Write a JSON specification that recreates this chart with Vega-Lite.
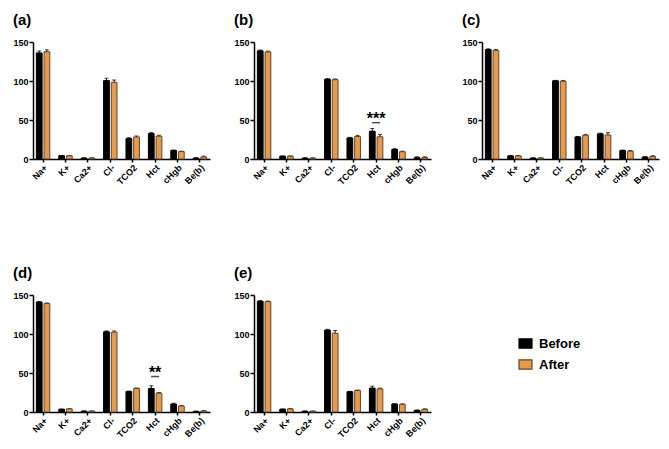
{
  "$schema": "https://vega.github.io/schema/vega-lite/v6.json",
  "padding": {"left": 12, "top": 13, "right": 5, "bottom": 5},
  "autosize": {"type": "pad"},
  "background": "white",
  "datasets": {
    "rows": [
      {"panel": "a", "analyte": "Na+", "group": "Before", "value": 136, "err": 2.5},
      {"panel": "a", "analyte": "Na+", "group": "After", "value": 137.5, "err": 2.5},
      {"panel": "a", "analyte": "K+", "group": "Before", "value": 4.2, "err": 0.3},
      {"panel": "a", "analyte": "K+", "group": "After", "value": 4.1, "err": 0.3},
      {"panel": "a", "analyte": "Ca2+", "group": "Before", "value": 1.2, "err": 0.1},
      {"panel": "a", "analyte": "Ca2+", "group": "After", "value": 1.2, "err": 0.1},
      {"panel": "a", "analyte": "Cl-", "group": "Before", "value": 100.5, "err": 3},
      {"panel": "a", "analyte": "Cl-", "group": "After", "value": 98.3, "err": 3},
      {"panel": "a", "analyte": "TCO2", "group": "Before", "value": 26.3, "err": 1},
      {"panel": "a", "analyte": "TCO2", "group": "After", "value": 28.3, "err": 1.2},
      {"panel": "a", "analyte": "Hct", "group": "Before", "value": 32.6, "err": 1.5},
      {"panel": "a", "analyte": "Hct", "group": "After", "value": 29.3, "err": 1.2},
      {"panel": "a", "analyte": "cHgb", "group": "Before", "value": 11, "err": 0.5},
      {"panel": "a", "analyte": "cHgb", "group": "After", "value": 9.5, "err": 0.6},
      {"panel": "a", "analyte": "Be(b)", "group": "Before", "value": 1.2, "err": 0.5},
      {"panel": "a", "analyte": "Be(b)", "group": "After", "value": 2.7, "err": 1},

      {"panel": "b", "analyte": "Na+", "group": "Before", "value": 138.7, "err": 1},
      {"panel": "b", "analyte": "Na+", "group": "After", "value": 137.3, "err": 1},
      {"panel": "b", "analyte": "K+", "group": "Before", "value": 3.6, "err": 0.3},
      {"panel": "b", "analyte": "K+", "group": "After", "value": 3.6, "err": 0.3},
      {"panel": "b", "analyte": "Ca2+", "group": "Before", "value": 1.2, "err": 0.1},
      {"panel": "b", "analyte": "Ca2+", "group": "After", "value": 1.2, "err": 0.1},
      {"panel": "b", "analyte": "Cl-", "group": "Before", "value": 102.3, "err": 0.8},
      {"panel": "b", "analyte": "Cl-", "group": "After", "value": 101.7, "err": 1},
      {"panel": "b", "analyte": "TCO2", "group": "Before", "value": 27, "err": 0.8},
      {"panel": "b", "analyte": "TCO2", "group": "After", "value": 28.8, "err": 1.5},
      {"panel": "b", "analyte": "Hct", "group": "Before", "value": 35.6, "err": 3.5},
      {"panel": "b", "analyte": "Hct", "group": "After", "value": 28.5, "err": 3},
      {"panel": "b", "analyte": "cHgb", "group": "Before", "value": 12.3, "err": 1},
      {"panel": "b", "analyte": "cHgb", "group": "After", "value": 9.3, "err": 0.8},
      {"panel": "b", "analyte": "Be(b)", "group": "Before", "value": 1.7, "err": 1.2},
      {"panel": "b", "analyte": "Be(b)", "group": "After", "value": 2, "err": 0.8},

      {"panel": "c", "analyte": "Na+", "group": "Before", "value": 140.3, "err": 1},
      {"panel": "c", "analyte": "Na+", "group": "After", "value": 139.3, "err": 1},
      {"panel": "c", "analyte": "K+", "group": "Before", "value": 4, "err": 0.3},
      {"panel": "c", "analyte": "K+", "group": "After", "value": 4, "err": 0.3},
      {"panel": "c", "analyte": "Ca2+", "group": "Before", "value": 1.2, "err": 0.1},
      {"panel": "c", "analyte": "Ca2+", "group": "After", "value": 1.2, "err": 0.1},
      {"panel": "c", "analyte": "Cl-", "group": "Before", "value": 100.3, "err": 0.5},
      {"panel": "c", "analyte": "Cl-", "group": "After", "value": 99.7, "err": 1},
      {"panel": "c", "analyte": "TCO2", "group": "Before", "value": 28.3, "err": 0.6},
      {"panel": "c", "analyte": "TCO2", "group": "After", "value": 30.5, "err": 1},
      {"panel": "c", "analyte": "Hct", "group": "Before", "value": 32.3, "err": 0.8},
      {"panel": "c", "analyte": "Hct", "group": "After", "value": 30.8, "err": 3},
      {"panel": "c", "analyte": "cHgb", "group": "Before", "value": 11, "err": 0.4},
      {"panel": "c", "analyte": "cHgb", "group": "After", "value": 10, "err": 1},
      {"panel": "c", "analyte": "Be(b)", "group": "Before", "value": 2.5, "err": 0.5},
      {"panel": "c", "analyte": "Be(b)", "group": "After", "value": 3.3, "err": 0.8},

      {"panel": "d", "analyte": "Na+", "group": "Before", "value": 141, "err": 0.8},
      {"panel": "d", "analyte": "Na+", "group": "After", "value": 139, "err": 0.8},
      {"panel": "d", "analyte": "K+", "group": "Before", "value": 3.5, "err": 0.3},
      {"panel": "d", "analyte": "K+", "group": "After", "value": 4, "err": 0.3},
      {"panel": "d", "analyte": "Ca2+", "group": "Before", "value": 1.1, "err": 0.1},
      {"panel": "d", "analyte": "Ca2+", "group": "After", "value": 1.1, "err": 0.1},
      {"panel": "d", "analyte": "Cl-", "group": "Before", "value": 102.8, "err": 1.2},
      {"panel": "d", "analyte": "Cl-", "group": "After", "value": 102.4, "err": 1.5},
      {"panel": "d", "analyte": "TCO2", "group": "Before", "value": 26.3, "err": 0.6},
      {"panel": "d", "analyte": "TCO2", "group": "After", "value": 30.2, "err": 0.6},
      {"panel": "d", "analyte": "Hct", "group": "Before", "value": 30.2, "err": 3.5},
      {"panel": "d", "analyte": "Hct", "group": "After", "value": 24.2, "err": 0.8},
      {"panel": "d", "analyte": "cHgb", "group": "Before", "value": 10.2, "err": 1},
      {"panel": "d", "analyte": "cHgb", "group": "After", "value": 7.7, "err": 0.6},
      {"panel": "d", "analyte": "Be(b)", "group": "Before", "value": 0.8, "err": 0.3},
      {"panel": "d", "analyte": "Be(b)", "group": "After", "value": 1.3, "err": 0.5},

      {"panel": "e", "analyte": "Na+", "group": "Before", "value": 142, "err": 0.8},
      {"panel": "e", "analyte": "Na+", "group": "After", "value": 141.5, "err": 0.8},
      {"panel": "e", "analyte": "K+", "group": "Before", "value": 3.6, "err": 0.3},
      {"panel": "e", "analyte": "K+", "group": "After", "value": 4, "err": 0.4},
      {"panel": "e", "analyte": "Ca2+", "group": "Before", "value": 1, "err": 0.1},
      {"panel": "e", "analyte": "Ca2+", "group": "After", "value": 1, "err": 0.1},
      {"panel": "e", "analyte": "Cl-", "group": "Before", "value": 105, "err": 1},
      {"panel": "e", "analyte": "Cl-", "group": "After", "value": 101, "err": 3.5},
      {"panel": "e", "analyte": "TCO2", "group": "Before", "value": 26, "err": 0.5},
      {"panel": "e", "analyte": "TCO2", "group": "After", "value": 27.6, "err": 0.5},
      {"panel": "e", "analyte": "Hct", "group": "Before", "value": 30.6, "err": 2.5},
      {"panel": "e", "analyte": "Hct", "group": "After", "value": 29.7, "err": 1},
      {"panel": "e", "analyte": "cHgb", "group": "Before", "value": 10.2, "err": 0.5},
      {"panel": "e", "analyte": "cHgb", "group": "After", "value": 9.8, "err": 0.6},
      {"panel": "e", "analyte": "Be(b)", "group": "Before", "value": 2.1, "err": 0.5},
      {"panel": "e", "analyte": "Be(b)", "group": "After", "value": 3.4, "err": 0.7}
    ],
    "sig": [
      {"panel": "b", "analyte": "Hct", "line": 46.6, "star": 51.5, "label": "***"},
      {"panel": "d", "analyte": "Hct", "line": 45.5, "star": 50.5, "label": "**"}
    ]
  },
  "config": {
    "view": {"stroke": null},
    "font": "Liberation Sans",
    "axis": {
      "grid": false,
      "title": null,
      "domainColor": "black",
      "domainWidth": 1.5,
      "tickColor": "black",
      "tickWidth": 1.5,
      "labelColor": "black",
      "labelFont": "Liberation Sans",
      "labelFontWeight": "bold",
      "labelFontSize": 9
    },
    "axisX": {"tickSize": 3, "labelAngle": -45, "labelAlign": "right", "labelBaseline": "top", "labelPadding": 1},
    "axisY": {"tickSize": 4, "labelPadding": 1, "values": [0, 50, 100, 150]},
    "title": {
      "anchor": "start",
      "frame": "bounds",
      "font": "Liberation Sans",
      "fontSize": 15,
      "fontWeight": "bold",
      "color": "black",
      "offset": 10
    }
  },
  "resolve": {"scale": {"fill": "shared", "stroke": "shared"}, "legend": {"fill": "shared", "stroke": "shared"}},
  "spacing": 79,
  "vconcat": [
    {
      "spacing": 30,
      "hconcat": [
        {
          "spacing": 23,
          "hconcat": [
            {
              "title": "(a)",
              "width": 177,
              "height": 117,
              "layer": [
                {
                  "data": {"name": "rows"},
                  "transform": [{"filter": "datum.panel === 'a'"}],
                  "mark": {"type": "errorbar", "color": "black", "ticks": {"size": 4, "thickness": 1}, "rule": {"strokeWidth": 1}},
                  "encoding": {
                    "x": {"field": "analyte", "type": "nominal", "scale": {"domain": ["Na+", "K+", "Ca2+", "Cl-", "TCO2", "Hct", "cHgb", "Be(b)"]}},
                    "xOffset": {"field": "group", "type": "nominal", "scale": {"domain": ["Before", "After"]}},
                    "y": {"field": "value", "type": "quantitative", "title": null},
                    "yError": {"field": "err"}
                  }
                },
                {
                  "data": {"name": "rows"},
                  "transform": [{"filter": "datum.panel === 'a'"}],
                  "mark": {"type": "bar", "strokeWidth": 1},
                  "encoding": {
                    "x": {"field": "analyte", "type": "nominal", "scale": {"domain": ["Na+", "K+", "Ca2+", "Cl-", "TCO2", "Hct", "cHgb", "Be(b)"], "paddingInner": 0.4, "paddingOuter": 0.15}},
                    "xOffset": {"field": "group", "type": "nominal", "scale": {"domain": ["Before", "After"], "paddingInner": 0.25}},
                    "y": {"field": "value", "type": "quantitative", "title": null, "scale": {"domain": [0, 150], "nice": false}},
                    "fill": {"field": "group", "type": "nominal", "title": null, "scale": {"domain": ["Before", "After"], "range": ["black", "#E89A4C"]}, "legend": {"orient": "none", "legendX": 486, "legendY": 295, "labelFontSize": 13, "labelFontWeight": "bold", "labelColor": "black", "symbolType": "M-1.4,-1H1.4V1H-1.4Z", "symbolSize": 86, "symbolStrokeWidth": 1.2, "rowPadding": 6, "labelOffset": 7}},
                    "stroke": {"field": "group", "type": "nominal", "title": null, "scale": {"domain": ["Before", "After"], "range": ["black", "#5e4630"]}}
                  }
                }
              ]
            },
            {
              "title": "(b)",
              "width": 177,
              "height": 117,
              "layer": [
                {
                  "data": {"name": "rows"},
                  "transform": [{"filter": "datum.panel === 'b'"}],
                  "mark": {"type": "errorbar", "color": "black", "ticks": {"size": 4, "thickness": 1}, "rule": {"strokeWidth": 1}},
                  "encoding": {
                    "x": {"field": "analyte", "type": "nominal", "scale": {"domain": ["Na+", "K+", "Ca2+", "Cl-", "TCO2", "Hct", "cHgb", "Be(b)"]}},
                    "xOffset": {"field": "group", "type": "nominal", "scale": {"domain": ["Before", "After"]}},
                    "y": {"field": "value", "type": "quantitative", "title": null},
                    "yError": {"field": "err"}
                  }
                },
                {
                  "data": {"name": "rows"},
                  "transform": [{"filter": "datum.panel === 'b'"}],
                  "mark": {"type": "bar", "strokeWidth": 1},
                  "encoding": {
                    "x": {"field": "analyte", "type": "nominal", "scale": {"domain": ["Na+", "K+", "Ca2+", "Cl-", "TCO2", "Hct", "cHgb", "Be(b)"], "paddingInner": 0.4, "paddingOuter": 0.15}},
                    "xOffset": {"field": "group", "type": "nominal", "scale": {"domain": ["Before", "After"], "paddingInner": 0.25}},
                    "y": {"field": "value", "type": "quantitative", "title": null, "scale": {"domain": [0, 150], "nice": false}},
                    "fill": {"field": "group", "type": "nominal", "title": null, "scale": {"domain": ["Before", "After"], "range": ["black", "#E89A4C"]}, "legend": {"orient": "none", "legendX": 486, "legendY": 295, "labelFontSize": 13, "labelFontWeight": "bold", "labelColor": "black", "symbolType": "M-1.4,-1H1.4V1H-1.4Z", "symbolSize": 86, "symbolStrokeWidth": 1.2, "rowPadding": 6, "labelOffset": 7}},
                    "stroke": {"field": "group", "type": "nominal", "title": null, "scale": {"domain": ["Before", "After"], "range": ["black", "#5e4630"]}}
                  }
                },
                {
                  "data": {"name": "sig"},
                  "transform": [{"filter": "datum.panel === 'b'"}],
                  "mark": {"type": "tick", "orient": "horizontal", "size": 8, "thickness": 1.5, "color": "black"},
                  "encoding": {
                    "x": {"field": "analyte", "type": "nominal", "scale": {"domain": ["Na+", "K+", "Ca2+", "Cl-", "TCO2", "Hct", "cHgb", "Be(b)"]}},
                    "y": {"field": "line", "type": "quantitative", "title": null}
                  }
                },
                {
                  "data": {"name": "sig"},
                  "transform": [{"filter": "datum.panel === 'b'"}],
                  "mark": {"type": "text", "font": "Liberation Sans", "fontSize": 16, "fontWeight": "bold", "baseline": "middle", "color": "black"},
                  "encoding": {
                    "x": {"field": "analyte", "type": "nominal", "scale": {"domain": ["Na+", "K+", "Ca2+", "Cl-", "TCO2", "Hct", "cHgb", "Be(b)"]}},
                    "y": {"field": "star", "type": "quantitative", "title": null},
                    "text": {"field": "label"}
                  }
                }
              ]
            }
          ]
        },
        {
          "title": "(c)",
          "width": 177,
          "height": 117,
          "layer": [
            {
              "data": {"name": "rows"},
              "transform": [{"filter": "datum.panel === 'c'"}],
              "mark": {"type": "errorbar", "color": "black", "ticks": {"size": 4, "thickness": 1}, "rule": {"strokeWidth": 1}},
              "encoding": {
                "x": {"field": "analyte", "type": "nominal", "scale": {"domain": ["Na+", "K+", "Ca2+", "Cl-", "TCO2", "Hct", "cHgb", "Be(b)"]}},
                "xOffset": {"field": "group", "type": "nominal", "scale": {"domain": ["Before", "After"]}},
                "y": {"field": "value", "type": "quantitative", "title": null},
                "yError": {"field": "err"}
              }
            },
            {
              "data": {"name": "rows"},
              "transform": [{"filter": "datum.panel === 'c'"}],
              "mark": {"type": "bar", "strokeWidth": 1},
              "encoding": {
                "x": {"field": "analyte", "type": "nominal", "scale": {"domain": ["Na+", "K+", "Ca2+", "Cl-", "TCO2", "Hct", "cHgb", "Be(b)"], "paddingInner": 0.4, "paddingOuter": 0.15}},
                "xOffset": {"field": "group", "type": "nominal", "scale": {"domain": ["Before", "After"], "paddingInner": 0.25}},
                "y": {"field": "value", "type": "quantitative", "title": null, "scale": {"domain": [0, 150], "nice": false}},
                "fill": {"field": "group", "type": "nominal", "title": null, "scale": {"domain": ["Before", "After"], "range": ["black", "#E89A4C"]}, "legend": {"orient": "none", "legendX": 486, "legendY": 295, "labelFontSize": 13, "labelFontWeight": "bold", "labelColor": "black", "symbolType": "M-1.4,-1H1.4V1H-1.4Z", "symbolSize": 86, "symbolStrokeWidth": 1.2, "rowPadding": 6, "labelOffset": 7}},
                "stroke": {"field": "group", "type": "nominal", "title": null, "scale": {"domain": ["Before", "After"], "range": ["black", "#5e4630"]}}
              }
            }
          ]
        }
      ]
    },
    {
      "spacing": 23,
      "hconcat": [
        {
          "title": "(d)",
          "width": 177,
          "height": 117,
          "layer": [
            {
              "data": {"name": "rows"},
              "transform": [{"filter": "datum.panel === 'd'"}],
              "mark": {"type": "errorbar", "color": "black", "ticks": {"size": 4, "thickness": 1}, "rule": {"strokeWidth": 1}},
              "encoding": {
                "x": {"field": "analyte", "type": "nominal", "scale": {"domain": ["Na+", "K+", "Ca2+", "Cl-", "TCO2", "Hct", "cHgb", "Be(b)"]}},
                "xOffset": {"field": "group", "type": "nominal", "scale": {"domain": ["Before", "After"]}},
                "y": {"field": "value", "type": "quantitative", "title": null},
                "yError": {"field": "err"}
              }
            },
            {
              "data": {"name": "rows"},
              "transform": [{"filter": "datum.panel === 'd'"}],
              "mark": {"type": "bar", "strokeWidth": 1},
              "encoding": {
                "x": {"field": "analyte", "type": "nominal", "scale": {"domain": ["Na+", "K+", "Ca2+", "Cl-", "TCO2", "Hct", "cHgb", "Be(b)"], "paddingInner": 0.4, "paddingOuter": 0.15}},
                "xOffset": {"field": "group", "type": "nominal", "scale": {"domain": ["Before", "After"], "paddingInner": 0.25}},
                "y": {"field": "value", "type": "quantitative", "title": null, "scale": {"domain": [0, 150], "nice": false}},
                "fill": {"field": "group", "type": "nominal", "title": null, "scale": {"domain": ["Before", "After"], "range": ["black", "#E89A4C"]}, "legend": {"orient": "none", "legendX": 486, "legendY": 295, "labelFontSize": 13, "labelFontWeight": "bold", "labelColor": "black", "symbolType": "M-1.4,-1H1.4V1H-1.4Z", "symbolSize": 86, "symbolStrokeWidth": 1.2, "rowPadding": 6, "labelOffset": 7}},
                "stroke": {"field": "group", "type": "nominal", "title": null, "scale": {"domain": ["Before", "After"], "range": ["black", "#5e4630"]}}
              }
            },
            {
              "data": {"name": "sig"},
              "transform": [{"filter": "datum.panel === 'd'"}],
              "mark": {"type": "tick", "orient": "horizontal", "size": 8, "thickness": 1.5, "color": "black"},
              "encoding": {
                "x": {"field": "analyte", "type": "nominal", "scale": {"domain": ["Na+", "K+", "Ca2+", "Cl-", "TCO2", "Hct", "cHgb", "Be(b)"]}},
                "y": {"field": "line", "type": "quantitative", "title": null}
              }
            },
            {
              "data": {"name": "sig"},
              "transform": [{"filter": "datum.panel === 'd'"}],
              "mark": {"type": "text", "font": "Liberation Sans", "fontSize": 16, "fontWeight": "bold", "baseline": "middle", "color": "black"},
              "encoding": {
                "x": {"field": "analyte", "type": "nominal", "scale": {"domain": ["Na+", "K+", "Ca2+", "Cl-", "TCO2", "Hct", "cHgb", "Be(b)"]}},
                "y": {"field": "star", "type": "quantitative", "title": null},
                "text": {"field": "label"}
              }
            }
          ]
        },
        {
          "title": "(e)",
          "width": 177,
          "height": 117,
          "layer": [
            {
              "data": {"name": "rows"},
              "transform": [{"filter": "datum.panel === 'e'"}],
              "mark": {"type": "errorbar", "color": "black", "ticks": {"size": 4, "thickness": 1}, "rule": {"strokeWidth": 1}},
              "encoding": {
                "x": {"field": "analyte", "type": "nominal", "scale": {"domain": ["Na+", "K+", "Ca2+", "Cl-", "TCO2", "Hct", "cHgb", "Be(b)"]}},
                "xOffset": {"field": "group", "type": "nominal", "scale": {"domain": ["Before", "After"]}},
                "y": {"field": "value", "type": "quantitative", "title": null},
                "yError": {"field": "err"}
              }
            },
            {
              "data": {"name": "rows"},
              "transform": [{"filter": "datum.panel === 'e'"}],
              "mark": {"type": "bar", "strokeWidth": 1},
              "encoding": {
                "x": {"field": "analyte", "type": "nominal", "scale": {"domain": ["Na+", "K+", "Ca2+", "Cl-", "TCO2", "Hct", "cHgb", "Be(b)"], "paddingInner": 0.4, "paddingOuter": 0.15}},
                "xOffset": {"field": "group", "type": "nominal", "scale": {"domain": ["Before", "After"], "paddingInner": 0.25}},
                "y": {"field": "value", "type": "quantitative", "title": null, "scale": {"domain": [0, 150], "nice": false}},
                "fill": {"field": "group", "type": "nominal", "title": null, "scale": {"domain": ["Before", "After"], "range": ["black", "#E89A4C"]}, "legend": {"orient": "none", "legendX": 486, "legendY": 295, "labelFontSize": 13, "labelFontWeight": "bold", "labelColor": "black", "symbolType": "M-1.4,-1H1.4V1H-1.4Z", "symbolSize": 86, "symbolStrokeWidth": 1.2, "rowPadding": 6, "labelOffset": 7}},
                "stroke": {"field": "group", "type": "nominal", "title": null, "scale": {"domain": ["Before", "After"], "range": ["black", "#5e4630"]}}
              }
            }
          ]
        }
      ]
    }
  ]
}
